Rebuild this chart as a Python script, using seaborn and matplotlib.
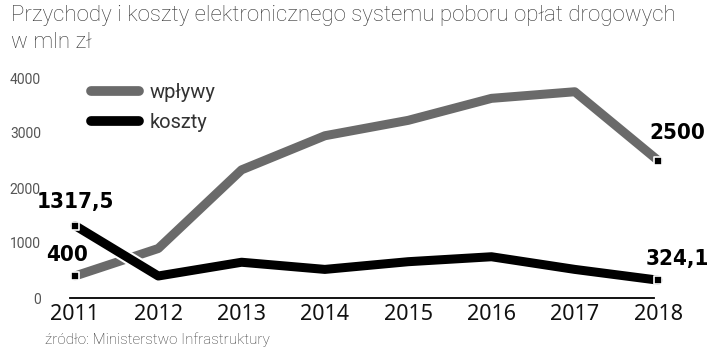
import pandas as pd
import numpy as np
import matplotlib.pyplot as plt
import matplotlib.patheffects as pe
import seaborn as sns

# dane (mln zł)
lata = [2011, 2012, 2013, 2014, 2015, 2016, 2017, 2018]
wplywy = [400, 900, 2330, 2950, 3230, 3630, 3750, 2500]
koszty = [1317.5, 400, 650, 520, 660, 750, 520, 324.1]
etykiety = {'wpływy': ['400', '2500'], 'koszty': ['1317,5', '324,1']}

df = pd.DataFrame({'rok': lata * 2,
                   'wartosc': wplywy + koszty,
                   'seria': ['wpływy'] * len(lata) + ['koszty'] * len(lata)})

sns.set_style('white')
plt.rcParams['font.family'] = ['Roboto', 'DejaVu Sans']

fig = plt.figure(figsize=(7.2, 3.55), dpi=100)
ax = fig.add_axes([70 / 720, 57 / 355, 600 / 720, 220 / 355])

kolory = {'wpływy': '#6a6a6a', 'koszty': '#000000'}
sns.lineplot(data=df, x='rok', y='wartosc', hue='seria', palette=kolory,
             linewidth=6.5, ax=ax, legend=True)

for ln in ax.get_lines():
    ln.set_path_effects([pe.Stroke(linewidth=9.5, foreground='white'), pe.Normal()])
    ln.set_clip_on(False)

# kwadratowe znaczniki na końcach
for seria, vals in [('wpływy', wplywy), ('koszty', koszty)]:
    ax.scatter([lata[0], lata[-1]], [vals[0], vals[-1]], marker='s', s=30,
               color='black', edgecolor='white', linewidth=1.2, zorder=5, clip_on=False)

opis = dict(fontsize=16, fontweight='bold', family='DejaVu Sans', fontstretch='condensed',
            ha='center', va='center', color='black')
ax.annotate(etykiety['wpływy'][0], (lata[0], wplywy[0]), xytext=(-6, 15),
            textcoords='offset points', **opis)
ax.annotate(etykiety['koszty'][0], (lata[0], koszty[0]), xytext=(0, 17),
            textcoords='offset points', **opis)
ax.annotate(etykiety['wpływy'][1], (lata[-1], wplywy[-1]), xytext=(14, 20),
            textcoords='offset points', **opis)
ax.annotate(etykiety['koszty'][1], (lata[-1], koszty[-1]), xytext=(14, 15),
            textcoords='offset points', **opis)

ax.set_xlim(2011 - 5 / 84, 2018 + 12 / 84)
ax.set_ylim(0, 4000)
ax.set_yticks([0, 1000, 2000, 3000, 4000])
ax.set_xticks(lata)
ax.tick_params(axis='y', labelsize=10, labelcolor='#555555', pad=21, length=0)
ax.tick_params(axis='x', labelsize=15.5, labelcolor='#111111', pad=4, length=0)
for t in ax.get_xticklabels():
    t.set_family(['Noto Sans', 'DejaVu Sans'])
ax.set_xlabel('')
ax.set_ylabel('')

for s in ['top', 'right', 'left']:
    ax.spines[s].set_visible(False)
ax.spines['bottom'].set_color('black')
ax.spines['bottom'].set_linewidth(1.3)
ax.spines['bottom'].set_bounds(2011 - 5 / 84, 2017.95)

leg = ax.legend(loc='upper left', bbox_to_anchor=(0.005, 1.06), frameon=False,
                handlelength=2.4, handletextpad=0.5, labelspacing=0.55,
                fontsize=14.5, labelcolor='#333333')
for h in leg.get_lines():
    h.set_linewidth(7)
    h.set_solid_capstyle('round')
    h.set_path_effects([])

fig.text(11 / 720, 1 - 16 / 355, 'Przychody i koszty elektronicznego systemu poboru opłat drogowych',
         fontsize=16, color='#333333', fontweight='light', va='center')
fig.text(11 / 720, 1 - 43 / 355, 'w mln zł', fontsize=16, color='#333333',
         fontweight='light', va='center')
fig.text(45 / 720, 1 - 340 / 355, 'źródło: Ministerstwo Infrastruktury', fontsize=11,
         color='#333333', fontweight='light', va='center')

fig.savefig('out.png', dpi=100)
